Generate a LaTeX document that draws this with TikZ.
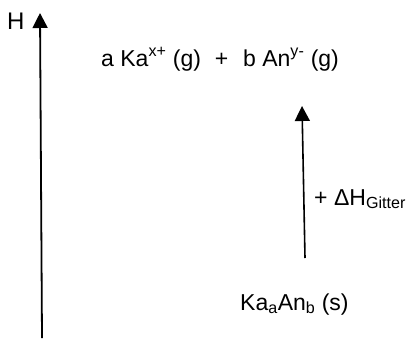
\documentclass[tikz,border=0pt]{standalone}
\usepackage{fontspec}
\setmainfont{Liberation Sans}
\usetikzlibrary{arrows.meta}

\begin{document}
\begin{tikzpicture}[x=1pt, y=-1pt,
    pfeil/.style={line width=1.8pt, -{Triangle[width=15pt,length=15pt]}},
    txt/.style={anchor=base west, inner sep=0pt}]
                \useasboundingbox (0,0) rectangle (409,338);

                % Enthalpie-Achse
                \coordinate (achseU) at (42,338);
                \coordinate (achseO) at (40,13);
                \draw[pfeil] (achseU) -- (achseO);
                \node[txt, font=\fontsize{24}{28}\selectfont] (H) at (7,29) {H};

                % Gasfoermige Ionen
                \node[txt, font=\fontsize{23}{27}\selectfont] (ionen) at (101,66)
                    {a Ka\textsuperscript{x+} (g)\hspace{0.6em}+\hspace{0.65em}b An\textsuperscript{y-} (g)};

                % Ionengitter
                \node[txt, font=\fontsize{23}{27}\selectfont] (gitter) at (240,310)
                    {Ka\textsubscript{a}An\textsubscript{b} (s)};

                % Gitterenthalpie
                \coordinate (gU) at (305,258);
                \coordinate (gO) at (302,106);
                \draw[pfeil, line width=1.6pt] (gU) -- (gO);
                \node[txt, font=\fontsize{23}{27}\selectfont] (dH) at (314,205)
                    {+ ΔH\textsubscript{Gitter}};
\end{tikzpicture}
\end{document}
